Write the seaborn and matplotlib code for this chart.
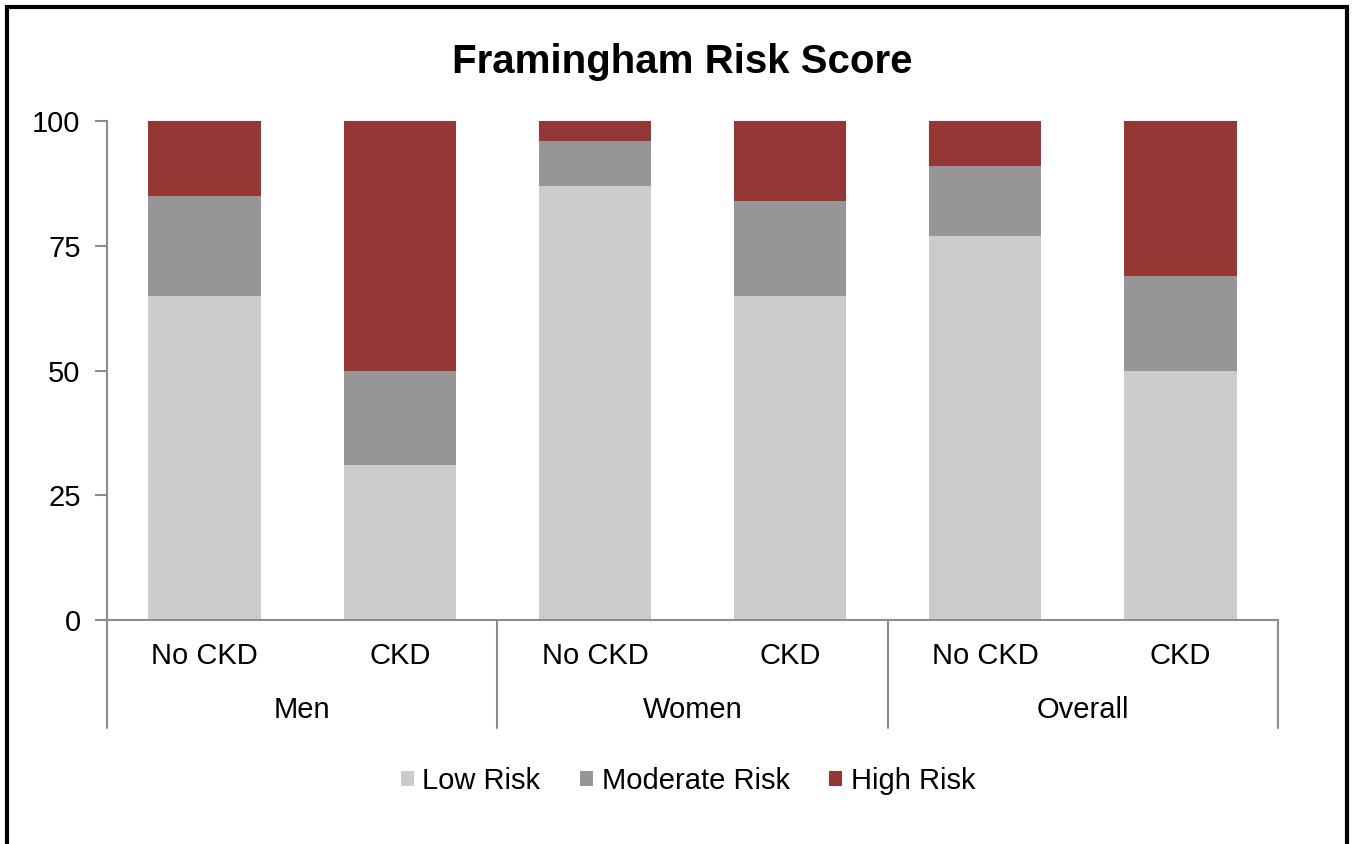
import numpy as np
import pandas as pd
import matplotlib
matplotlib.use("Agg")
import matplotlib.pyplot as plt
from matplotlib.patches import Rectangle, Patch
import seaborn as sns

# Data (percent of each subgroup)
groups = ["Men", "Women", "Overall"]
subgroups = ["No CKD", "CKD"]
low_risk = [65, 31, 87, 65, 77, 50]
moderate_risk = [20, 19, 9, 19, 14, 19]
high_risk = [15, 50, 4, 16, 9, 31]
series_names = ["Low Risk", "Moderate Risk", "High Risk"]
series_colors = ["#CCCCCC", "#969696", "#953735"]
y_ticks = [0, 25, 50, 75, 100]

sns.set_theme(style="white")
plt.rcParams["font.family"] = ["Liberation Sans", "DejaVu Sans"]
plt.rcParams["text.color"] = "black"

FS = 21

# one id per bar so duplicate labels stay separate
bar_ids = [f"{g}|{s}" for g in groups for s in subgroups]
df = pd.DataFrame({
    "bar": bar_ids,
    "low": low_risk,
    "moderate": moderate_risk,
    "high": high_risk,
})
df["top_low"] = df["low"]
df["top_mod"] = df["low"] + df["moderate"]
df["top_high"] = df["top_mod"] + df["high"]

fig = plt.figure(figsize=(13.57, 8.44), dpi=100)
ax = fig.add_axes([107 / 1357, 1 - 620 / 844, 1171 / 1357, 499 / 844])

# stacked bars: draw tallest first, then overlay
for col, color in zip(["top_high", "top_mod", "top_low"], series_colors[::-1]):
    sns.barplot(data=df, x="bar", y=col, order=bar_ids, color=color,
                width=0.575, saturation=1, linewidth=0, edgecolor="none", ax=ax)

ax.set_xlim(-0.5, len(bar_ids) - 0.5)
ax.set_ylim(0, 100)
ax.set_yticks(y_ticks)
ax.set_yticklabels([str(t) for t in y_ticks], fontsize=FS, color="black")
ax.set_xlabel("")
ax.set_ylabel("")
ax.set_xticks([])

for side in ["top", "right"]:
    ax.spines[side].set_visible(False)
for side in ["left", "bottom"]:
    ax.spines[side].set_color("#8C8C8C")
    ax.spines[side].set_linewidth(1.5)
ax.tick_params(axis="y", left=True, length=9, width=1.5, color="#8C8C8C",
               pad=10, labelcolor="black")

# two-level category axis
for i, bid in enumerate(bar_ids):
    ax.text(i, -7.2, bid.split("|")[1], ha="center", va="center",
            fontsize=FS, color="black", clip_on=False)
for j, g in enumerate(groups):
    ax.text(2 * j + 0.5, -18, g, ha="center", va="center",
            fontsize=FS, color="black", clip_on=False)
for k in range(len(groups) + 1):
    ax.plot([2 * k - 0.5, 2 * k - 0.5], [0, -21.6], color="#8C8C8C",
            lw=1.5, clip_on=False)

fig.suptitle("Framingham Risk Score", x=682 / 1357, y=1 - 62 / 844,
             va="center", fontsize=29, fontweight="bold", color="black")

handles = [Patch(facecolor=c, edgecolor="none") for c in series_colors]
fig.legend(handles, series_names, loc="center", ncol=3,
           bbox_to_anchor=(688 / 1357, 1 - 781 / 844), frameon=False,
           fontsize=FS, handlelength=0.45, handleheight=0.45,
           handletextpad=0.3, columnspacing=1.35)

# outer frame
fig.patches.append(Rectangle((7 / 1357, -0.02), 1340 / 1357, 1.02 - 7 / 844,
                             transform=fig.transFigure, fill=False,
                             edgecolor="black", linewidth=3))

fig.savefig("out.png", dpi=100)
